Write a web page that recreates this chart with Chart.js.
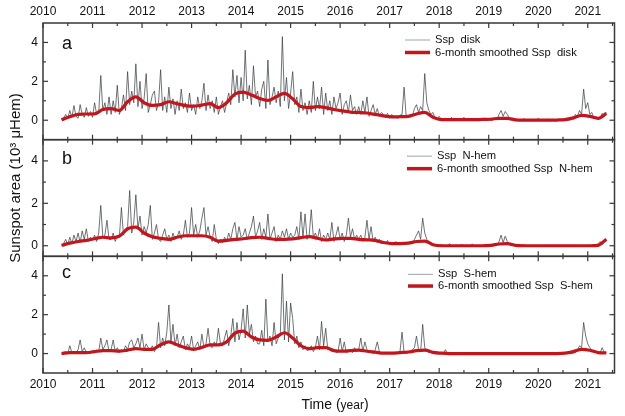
<!DOCTYPE html>
<html>
<head>
<meta charset="utf-8">
<script src="https://cdn.jsdelivr.net/npm/chart.js@4.4.1/dist/chart.umd.min.js"></script>
<style>
  html, body { margin: 0; background: #fff; }
  canvas { display: block; }
</style>
</head>
<body>
<canvas id="chart" width="625" height="416"></canvas>
<script>
const FONT = "'Liberation Sans', Arial, sans-serif";
const RED = '#c4141c';
const GRAY = 'rgba(55,62,66,0.9)';

// sampling of the series (years)
const startYear = 2010.375;
const rawStep = 1 / 24;   // half-month samples
const smoothStep = 1 / 6; // two-month samples

const xTicks = [2010, 2010.5, 2011, 2011.5, 2012, 2012.5, 2013, 2013.5, 2014, 2014.5, 2015, 2015.5,
  2016, 2016.5, 2017, 2017.5, 2018, 2018.5, 2019, 2019.5, 2020, 2020.5, 2021, 2021.5];
const yTicks = [0, 1, 2, 3, 4];

// Ssp disk (10^3 uHem), one row per year starting 2010.375
const diskRaw = [
  0.05,0.12,0.3,0.08,0.5,0.15,0.75,0.2,0.1,0.8,0.3,0.15,0.65,0.2,0.45,0.15,0.9,0.3,0.4,2.3,0.5,0.9,0.3,1.2,
  0.3,1.0,0.4,1.8,0.3,0.6,1.3,0.5,2.5,0.8,1.5,0.9,2.9,0.7,2.0,0.6,1.1,2.4,0.4,0.8,1.3,1.5,0.5,0.9,
  2.6,0.5,1.2,0.4,1.7,0.6,1.1,0.3,1.0,0.5,1.6,0.6,0.9,0.4,1.4,0.5,0.8,0.3,1.2,0.6,1.0,1.9,0.5,1.3,
  0.6,1.0,0.4,1.2,0.3,0.7,1.0,0.4,0.9,1.4,0.8,2.6,1.2,2.3,0.9,2.2,1.0,3.6,1.1,1.8,0.8,2.8,1.2,1.5,
  0.7,1.6,2.0,0.6,3.1,0.8,1.2,1.7,0.9,1.5,0.7,4.3,1.0,2.2,0.6,1.4,2.5,0.8,1.2,0.4,1.6,0.5,0.9,0.3,
  1.0,0.4,2.0,0.5,1.2,0.6,1.7,0.3,1.4,0.5,1.0,0.3,1.2,0.6,0.9,1.4,0.3,0.8,1.0,0.4,1.3,0.5,0.7,0.3,
  0.7,0.3,1.0,0.4,1.2,0.2,0.5,0.8,0.3,0.6,0.2,0.4,0.3,0.2,0.35,0.1,0.3,0.15,0.2,0.1,0.25,0.3,1.7,0.2,
  0.15,0.3,0.2,0.6,0.8,0.4,0.7,0.5,2.4,0.9,0.5,0.3,0.4,0.1,0.05,0.2,0.05,0.0,0.1,0.02,0.0,0.15,0.0,0.02,
  0.0,0.05,0.0,0.15,0.0,0.02,0.0,0.1,0.0,0.0,0.05,0.0,0.0,0.12,0.0,0.02,0.0,0.0,0.1,0.05,0.3,0.5,0.2,0.45,
  0.3,0.1,0.02,0.0,0.05,0.0,0.0,0.0,0.08,0.0,0.0,0.0,0.02,0.0,0.0,0.1,0.0,0.0,0.0,0.0,0.05,0.0,0.0,0.0,
  0.0,0.02,0.0,0.05,0.0,0.1,0.0,0.15,0.05,0.3,0.2,0.5,0.3,1.6,0.6,0.9,0.3,0.4,0.1,0.2,0.05,0.1,0.35,0.2,
  0.4
];
const diskSmooth = [
  0.02,0.18,0.3,0.32,
  0.33,0.55,0.6,0.5,0.95,1.2,
  0.9,0.76,0.8,0.95,0.85,0.75,
  0.72,0.78,0.85,0.65,0.9,1.35,
  1.45,1.3,1.12,1.02,1.2,1.38,
  1.1,0.7,0.65,0.7,0.65,0.55,
  0.48,0.42,0.4,0.37,0.3,0.22,
  0.17,0.18,0.2,0.32,0.4,0.15,
  0.03,0.03,0.03,0.03,0.03,0.04,
  0.05,0.1,0.1,0.02,0.0,0.0,
  0.0,0.0,0.01,0.03,0.12,0.25,
  0.2,0.1,0.35
];

// Ssp N-hem
const nRaw = [
  0.02,0.1,0.3,0.05,0.4,0.1,0.5,0.2,0.6,0.15,0.7,0.3,0.8,0.2,0.4,0.3,0.5,0.2,0.6,1.9,0.4,0.5,1.2,0.3,
  0.3,0.6,0.2,0.5,0.4,1.8,0.5,0.7,0.9,2.6,0.6,1.1,2.4,0.8,1.4,0.5,0.9,0.6,1.0,1.9,0.3,0.6,1.0,0.3,
  0.2,0.5,0.8,0.3,0.5,0.2,0.6,0.3,0.4,0.7,0.3,0.5,1.2,0.4,0.6,1.8,0.5,1.0,0.4,0.7,1.3,1.8,0.5,0.9,
  0.4,0.2,1.0,0.3,0.1,0.3,0.15,0.4,0.2,0.6,0.3,0.8,1.1,0.3,0.9,0.4,0.5,0.8,0.3,0.6,0.9,1.4,0.4,0.7,
  1.1,0.3,0.8,0.4,1.5,0.3,0.6,0.9,0.2,0.5,0.3,0.7,0.4,0.8,0.3,0.6,0.4,0.5,0.9,0.3,1.6,0.4,1.5,0.3,
  0.5,1.7,0.4,0.6,0.3,0.8,0.2,0.5,0.3,0.6,0.3,1.1,0.2,0.5,0.9,0.3,0.6,0.2,0.5,1.3,0.4,0.8,0.3,0.5,
  0.3,0.5,0.2,0.4,1.2,0.3,0.9,0.2,0.4,0.15,0.3,0.1,0.2,0.1,0.25,0.05,0.15,0.1,0.2,0.05,0.1,0.15,0.05,0.1,
  0.1,0.2,0.15,0.3,0.5,0.7,0.3,1.3,0.6,0.3,0.2,0.1,0.05,0.0,0.02,0.0,0.05,0.0,0.0,0.0,0.1,0.0,0.0,0.0,
  0.0,0.0,0.05,0.0,0.0,0.0,0.0,0.08,0.0,0.0,0.0,0.0,0.0,0.05,0.0,0.0,0.0,0.0,0.0,0.05,0.2,0.5,0.15,0.45,
  0.2,0.05,0.0,0.0,0.0,0.0,0.0,0.0,0.05,0.0,0.0,0.0,0.0,0.0,0.0,0.0,0.0,0.0,0.0,0.0,0.02,0.0,0.0,0.0,
  0.0,0.0,0.0,0.0,0.0,0.0,0.0,0.0,0.0,0.0,0.0,0.0,0.0,0.0,0.0,0.0,0.0,0.0,0.0,0.0,0.1,0.2,0.05,0.2,
  0.3
];
const nSmooth = [
  0.02,0.12,0.2,0.25,
  0.33,0.4,0.37,0.45,0.8,0.88,
  0.6,0.42,0.35,0.3,0.4,0.47,
  0.47,0.47,0.4,0.22,0.25,0.3,
  0.33,0.38,0.4,0.35,0.3,0.3,
  0.32,0.38,0.43,0.35,0.27,0.32,
  0.35,0.35,0.3,0.28,0.25,0.15,
  0.1,0.1,0.12,0.2,0.22,0.05,
  0.0,0.0,0.0,0.0,0.0,0.0,
  0.02,0.08,0.1,0.02,0.0,0.0,
  0.0,0.0,0.0,0.0,0.0,0.0,
  0.0,0.02,0.3
];

// Ssp S-hem
const sRaw = [
  0.0,0.05,0.1,0.0,0.4,0.05,0.1,0.05,0.2,0.7,0.1,0.3,0.05,0.1,0.0,0.15,0.05,0.2,0.1,0.8,0.2,0.4,0.7,0.1,
  0.2,0.7,0.1,0.3,0.05,0.2,0.1,0.4,0.2,0.6,0.7,0.3,0.5,0.8,0.3,1.0,0.2,0.5,0.3,0.2,0.4,0.1,0.3,1.6,
  0.3,0.8,0.4,1.1,2.5,0.6,1.5,0.4,1.0,0.3,0.6,0.9,0.2,0.5,0.3,0.9,0.2,0.4,0.6,0.2,1.0,0.3,0.5,1.3,
  0.4,0.3,0.6,0.4,1.3,0.5,0.4,0.8,1.2,0.4,0.9,1.8,0.6,1.6,0.7,1.2,2.3,0.8,2.5,1.0,1.5,0.6,0.9,0.5,
  0.5,1.2,0.4,2.8,0.6,0.9,0.4,1.6,0.5,0.8,1.0,4.1,0.7,2.7,0.6,2.6,1.8,0.5,0.9,0.3,0.6,0.2,0.4,0.15,
  0.2,0.4,0.1,0.3,0.9,0.2,1.65,0.4,1.3,0.2,0.3,0.1,0.2,0.05,0.1,0.8,0.1,0.6,0.05,0.1,0.2,0.05,0.3,0.1,
  0.2,0.8,0.1,0.6,0.2,0.05,0.1,0.0,0.2,0.6,0.1,0.0,0.05,0.0,0.0,0.05,0.0,0.0,0.02,0.0,0.1,1.1,0.05,0.0,
  0.05,0.1,0.2,0.3,0.9,0.2,0.1,1.5,0.3,0.15,0.05,0.1,0.0,0.02,0.0,0.0,0.0,0.0,0.2,0.0,0.0,0.0,0.0,0.0,
  0.0,0.0,0.0,0.0,0.0,0.0,0.0,0.0,0.0,0.0,0.0,0.0,0.0,0.0,0.0,0.0,0.0,0.0,0.0,0.0,0.0,0.0,0.0,0.0,
  0.0,0.0,0.0,0.0,0.0,0.0,0.0,0.0,0.0,0.0,0.0,0.0,0.0,0.0,0.0,0.0,0.0,0.0,0.0,0.0,0.0,0.0,0.0,0.0,
  0.0,0.0,0.0,0.0,0.02,0.0,0.05,0.0,0.03,0.05,0.15,0.4,0.3,1.6,0.9,0.5,0.3,0.2,0.05,0.1,0.0,0.05,0.3,0.05,
  0.05
];
const sSmooth = [
  0.0,0.05,0.05,0.05,
  0.1,0.15,0.15,0.12,0.18,0.25,
  0.22,0.22,0.45,0.6,0.45,0.3,
  0.22,0.32,0.45,0.45,0.6,1.05,
  1.15,0.85,0.7,0.68,0.85,1.07,
  0.8,0.4,0.25,0.3,0.3,0.15,
  0.12,0.15,0.18,0.12,0.07,0.02,
  0.02,0.05,0.08,0.15,0.18,0.06,
  0.02,0.0,0.0,0.0,0.0,0.0,
  0.0,0.0,0.0,0.0,0.0,0.0,
  0.0,0.0,0.0,0.02,0.1,0.22,
  0.17,0.05,0.03
];

const panels = [
  { id: 'yA', letter: 'a', min: -1, max: 5, raw: diskRaw, smooth: diskSmooth,
    rawLabel: 'Ssp  disk', smoothLabel: '6-month smoothed Ssp  disk' },
  { id: 'yB', letter: 'b', min: -0.5, max: 5, raw: nRaw, smooth: nSmooth,
    rawLabel: 'Ssp  N-hem', smoothLabel: '6-month smoothed Ssp  N-hem' },
  { id: 'yC', letter: 'c', min: -1, max: 5, raw: sRaw, smooth: sSmooth,
    rawLabel: 'Ssp  S-hem', smoothLabel: '6-month smoothed Ssp  S-hem' }
];

const toPoints = (vals, step) => vals.map((v, i) => ({ x: startYear + i * step, y: v }));

const datasets = [];
panels.forEach(p => {
  datasets.push({
    label: p.smoothLabel, data: toPoints(p.smooth, smoothStep), xAxisID: 'x', yAxisID: p.id,
    borderColor: RED, borderWidth: 3.2, pointRadius: 0, cubicInterpolationMode: 'monotone', order: 0
  });
  datasets.push({
    label: p.rawLabel, data: toPoints(p.raw, rawStep), xAxisID: 'x', yAxisID: p.id,
    borderColor: GRAY, borderWidth: 0.8, pointRadius: 0, tension: 0, order: 1
  });
});

const xAxis = (position, height) => ({
  type: 'linear', axis: 'x', position, min: 2010, max: 2021.54,
  grid: { display: false, drawTicks: false }, border: { display: false },
  afterBuildTicks: s => { s.ticks = xTicks.map(v => ({ value: v })); },
  afterFit: s => { s.height = height; },
  ticks: {
    padding: 4, autoSkip: false, maxRotation: 0, color: '#111',
    font: { family: FONT, size: 12 },
    callback: v => Number.isInteger(v) ? String(v) : ''
  }
});

const scales = { x: xAxis('bottom', 43), x2: xAxis('top', 23) };
panels.forEach((p, i) => {
  scales[p.id] = {
    type: 'linear', position: 'left', stack: 'panels', stackWeight: 1, weight: panels.length - i,
    min: p.min, max: p.max,
    grid: { display: false, drawTicks: false }, border: { display: false },
    afterBuildTicks: s => { s.ticks = yTicks.map(v => ({ value: v })); },
    afterFit: s => { s.width = 43; },
    ticks: {
      padding: 5, color: '#111', font: { family: FONT, size: 12 },
      callback: v => v % 2 === 0 ? String(v) : ''
    }
  };
});

// frames, inward ticks, panel letters, legends and axis titles
const legendPos = [
  { x: 405, dy1: 17, dy2: 29.5, letterDy: 21 },
  { x: 407, dy1: 16.5, dy2: 29, letterDy: 19 },
  { x: 408, dy1: 18, dy2: 29.7, letterDy: 17 }
];

const framePlugin = {
  id: 'frame',
  afterDraw(chart) {
    const { ctx, chartArea: ca, scales: sc } = chart;
    const line = (x1, y1, x2, y2) => { ctx.beginPath(); ctx.moveTo(x1, y1); ctx.lineTo(x2, y2); ctx.stroke(); };
    ctx.save();
    panels.forEach((p, i) => {
      const ys = sc[p.id];
      const top = ys.top, bot = ys.bottom;
      ctx.strokeStyle = '#383838';
      ctx.lineWidth = 1.5;
      ctx.strokeRect(ca.left, top, ca.right - ca.left, bot - top);
      ctx.lineWidth = 1.2;
      xTicks.forEach(v => {
        const px = sc.x.getPixelForValue(v);
        const len = Number.isInteger(v) ? 5 : 3;
        line(px, top, px, top + len);
        line(px, bot, px, bot - len);
      });
      yTicks.forEach(v => {
        const py = ys.getPixelForValue(v);
        const len = v % 2 === 0 ? 5 : 3;
        line(ca.left, py, ca.left + len, py);
        line(ca.right, py, ca.right - len, py);
      });

      const lp = legendPos[i];
      ctx.fillStyle = '#111';
      ctx.font = `18px ${FONT}`;
      ctx.textAlign = 'left';
      ctx.textBaseline = 'middle';
      ctx.fillText(p.letter, 62, top + lp.letterDy);

      ctx.font = `11.2px ${FONT}`;
      ctx.strokeStyle = '#9aa5ab';
      ctx.lineWidth = 1;
      line(lp.x, top + lp.dy1, lp.x + 25, top + lp.dy1);
      ctx.fillText(p.rawLabel, lp.x + 30, top + lp.dy1);
      ctx.strokeStyle = RED;
      ctx.lineWidth = 3.5;
      line(lp.x, top + lp.dy2, lp.x + 25, top + lp.dy2);
      ctx.fillText(p.smoothLabel, lp.x + 30, top + lp.dy2);
    });

    // y title
    ctx.save();
    ctx.translate(16, 178);
    ctx.rotate(-Math.PI / 2);
    ctx.font = `15px ${FONT}`;
    ctx.textAlign = 'center';
    ctx.textBaseline = 'middle';
    ctx.fillStyle = '#111';
    ctx.fillText('Sunspot area (10\u00b3 \u03bcHem)', 0, 0);
    ctx.restore();

    // x title
    const parts = [['Time (', 14], ['year', 12], [')', 14]];
    let w = 0;
    parts.forEach(([t, s]) => { ctx.font = `${s}px ${FONT}`; w += ctx.measureText(t).width; });
    let x = 335 - w / 2;
    ctx.textAlign = 'left';
    ctx.textBaseline = 'alphabetic';
    ctx.fillStyle = '#111';
    parts.forEach(([t, s]) => {
      ctx.font = `${s}px ${FONT}`;
      ctx.fillText(t, x, 409);
      x += ctx.measureText(t).width;
    });
    ctx.restore();
  }
};

new Chart(document.getElementById('chart'), {
  type: 'line',
  data: { datasets },
  options: {
    responsive: false,
    animation: false,
    devicePixelRatio: 1,
    layout: { padding: { left: 0, right: 10.5, top: 0, bottom: 0 } },
    plugins: { legend: { display: false }, tooltip: { enabled: false } },
    scales
  },
  plugins: [framePlugin]
});
</script>
</body>
</html>
